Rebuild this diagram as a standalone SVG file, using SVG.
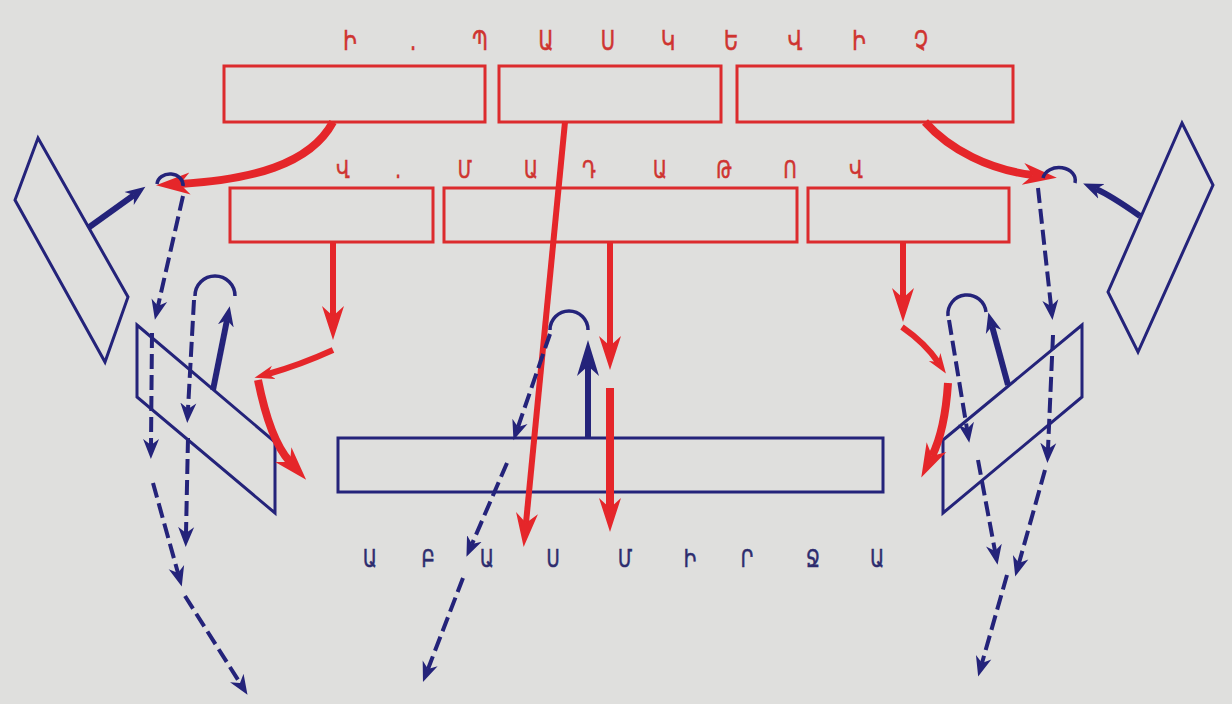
<svg xmlns="http://www.w3.org/2000/svg" width="1232" height="704" viewBox="0 0 1232 704">
<defs>
<style>
.bg{fill:#dfdfdd}
.rbox{fill:none;stroke:#dc2b2d;stroke-width:3}
.bbox{fill:none;stroke:#24237a;stroke-width:3}
.r{fill:none;stroke:#e5262a;stroke-width:6}
.rt{fill:none;stroke:#e5262a;stroke-width:8}
.b{fill:none;stroke:#24237a;stroke-width:6}
.bd{fill:none;stroke:#24237a;stroke-width:4;stroke-dasharray:15 6}
.arc{fill:none;stroke:#24237a;stroke-width:3.5}
.tr{font-family:"DejaVu Sans",sans-serif;fill:#cf3430;stroke:#cf3430;stroke-width:0.6;text-anchor:middle}
.tb{font-family:"DejaVu Sans",sans-serif;fill:#2d2c6e;stroke:#2d2c6e;stroke-width:0.6;text-anchor:middle}
</style>
<marker id="ra" markerUnits="userSpaceOnUse" markerWidth="40" markerHeight="30" viewBox="0 -15 40 30" refX="10" refY="0" orient="auto">
<path d="M0,-11 L34,0 L0,11 L10,0 Z" fill="#e5262a"/>
</marker>
<marker id="ras" markerUnits="userSpaceOnUse" markerWidth="30" markerHeight="20" viewBox="0 -10 30 20" refX="6" refY="0" orient="auto">
<path d="M0,-7 L20,0 L0,7 L6,0 Z" fill="#e5262a"/>
</marker>
<marker id="ba" markerUnits="userSpaceOnUse" markerWidth="30" markerHeight="20" viewBox="0 -10 30 20" refX="6" refY="0" orient="auto">
<path d="M0,-8 L20,0 L0,8 L6,0 Z" fill="#24237a"/>
</marker>
<marker id="bab" markerUnits="userSpaceOnUse" markerWidth="40" markerHeight="30" viewBox="0 -15 40 30" refX="10" refY="0" orient="auto">
<path d="M0,-11 L36,0 L0,11 L10,0 Z" fill="#24237a"/>
</marker>
</defs>
<rect class="bg" x="0" y="0" width="1232" height="704"/>

<g id="n1"><rect class="rbox" x="224" y="66" width="261" height="56"/></g>
<g id="n2"><rect class="rbox" x="499" y="66" width="222" height="56"/></g>
<g id="n3"><rect class="rbox" x="737" y="66" width="276" height="56"/></g>
<g id="n4"><rect class="rbox" x="230" y="188" width="203" height="54"/></g>
<g id="n5"><rect class="rbox" x="444" y="188" width="353" height="54"/></g>
<g id="n6"><rect class="rbox" x="808" y="188" width="201" height="54"/></g>
<g id="n7"><rect class="bbox" x="338" y="438" width="545" height="54"/></g>
<g id="p1"><polygon class="bbox" points="38,138 128,297 105,362 15,200"/></g>
<g id="p2"><polygon class="bbox" points="137,325 275,442 275,513 137,397"/></g>
<g id="p3"><polygon class="bbox" points="1182,123 1213,185 1138,352 1108,292"/></g>
<g id="p4"><polygon class="bbox" points="943,440 1082,325 1082,397 943,513"/></g>

<g id="labels">
<text class="tr" font-size="27" transform="scale(0.72,1)" x="486.1 573.6 666.7 758.3 844.4 927.8 1015.3 1104.2 1193.1 1279.2" y="50">Ի.ՊԱՍԿԵՎԻՉ</text>
<text class="tr" font-size="25" transform="scale(0.72,1)" x="476.4 552.8 645.8 737.5 818.1 916.7 1005.6 1097.2 1188.9" y="178">Վ.ՄԱԴԱԹՈՎ</text>
<text class="tb" font-size="25" transform="scale(0.72,1)" x="513.9 594.4 676.4 768.1 868.1 958.3 1037.5 1129.2 1218.1" y="567">ԱԲԱՍՄԻՐՋԱ</text>
</g>

<g id="connectors">
<path class="rt" d="M 333 122 C 310 165, 250 180, 180 184" marker-end="url(#ra)"/>
<path class="r" d="M 565 122 Q 545 330 526 523" marker-end="url(#ra)"/>
<path class="r" d="M 610 242 L 610 346" marker-end="url(#ra)"/>
<path class="rt" d="M 610 388 L 610 508" marker-end="url(#ra)"/>
<path class="r" d="M 333 242 L 333 316" marker-end="url(#ra)"/>
<path class="r" d="M 333 350 Q 300 365 268 374" marker-end="url(#ras)"/>
<path class="rt" d="M 258 380 Q 270 440 290 462" marker-end="url(#ra)"/>
<path class="r" d="M 903 242 L 903 298" marker-end="url(#ra)"/>
<path class="r" d="M 902 327 Q 925 343 938 362" marker-end="url(#ras)"/>
<path class="rt" d="M 948 383 Q 945 430 932 456" marker-end="url(#ra)"/>
<path class="rt" d="M 925 122 C 950 150, 990 170, 1033 175" marker-end="url(#ra)"/>

<path class="b" d="M 88 228 L 134 195" marker-end="url(#ba)"/>
<path class="arc" d="M 157 184 A 13 11 0 0 1 183 186"/>
<path class="bd" d="M 183 196 L 158 306" marker-end="url(#ba)"/>
<path class="bd" d="M 152 333 L 151 445" marker-end="url(#ba)"/>
<path class="bd" d="M 153 483 L 178 573" marker-end="url(#ba)"/>
<path class="bd" d="M 185 596 L 240 683" marker-end="url(#ba)"/>
<path class="b" d="M 213 390 L 227 320" marker-end="url(#ba)"/>
<path class="arc" d="M 195 296 A 20 20 0 0 1 235 296"/>
<path class="bd" d="M 194 300 L 188 409" marker-end="url(#ba)"/>
<path class="bd" d="M 188 438 L 186 533" marker-end="url(#ba)"/>

<path class="b" d="M 1140 216 Q 1110 195 1096 189" marker-end="url(#ba)"/>
<path class="arc" d="M 1043 178 A 15 12 0 0 1 1075 183"/>
<path class="bd" d="M 1038 188 L 1051 306" marker-end="url(#ba)"/>
<path class="bd" d="M 1053 335 L 1048 449" marker-end="url(#ba)"/>
<path class="bd" d="M 1045 470 L 1019 563" marker-end="url(#ba)"/>
<path class="arc" d="M 948 316 A 19 19 0 0 1 986 312"/>
<path class="b" d="M 1008 385 L 992 326" marker-end="url(#ba)"/>
<path class="bd" d="M 949 320 L 967 429" marker-end="url(#ba)"/>
<path class="bd" d="M 978 460 L 995 551" marker-end="url(#ba)"/>
<path class="bd" d="M 1007 575 L 982 663" marker-end="url(#ba)"/>

<path class="arc" d="M 550 330 A 19 19 0 0 1 588 330"/>
<path class="b" d="M 588 438 L 588 366" marker-end="url(#bab)"/>
<path class="bd" d="M 550 334 L 518 427" marker-end="url(#ba)"/>
<path class="bd" d="M 507 463 L 472 544" marker-end="url(#ba)"/>
<path class="bd" d="M 463 578 L 428 669" marker-end="url(#ba)"/>
</g>
</svg>
